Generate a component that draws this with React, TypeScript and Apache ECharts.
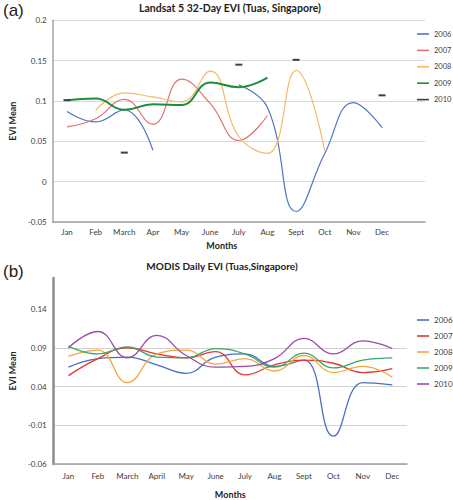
import React, { useEffect, useRef } from 'react';
import * as echarts from 'echarts';

// ---------- data ----------
const monthsA = ['Jan', 'Feb', 'March', 'Apr', 'May', 'June', 'July', 'Aug', 'Sept', 'Oct', 'Nov', 'Dec', ''];
const monthsB = ['Jan', 'Feb', 'March', 'April', 'May', 'June', 'July', 'Aug', 'Sept', 'Oct', 'Nov', 'Dec'];
const years = ['2006', '2007', '2008', '2009', '2010'];

// (a) Landsat 5 32-Day EVI
const landsat2006 = [0.087, 0.074, 0.089, 0.039, null, null, 0.12, 0.092, -0.037, 0.035, 0.098, 0.067, null];
const landsat2007 = [0.068, 0.078, 0.102, 0.071, 0.127, 0.097, 0.051, 0.082, null, null, null, null, null];
const landsat2008 = [null, 0.088, 0.11, 0.105, 0.099, 0.137, 0.056, 0.035, 0.138, 0.038, null, null, null];
const landsat2009 = [0.101, 0.103, 0.089, 0.096, 0.095, 0.123, 0.117, 0.129, null, null, null, null, null];
const landsat2010 = [0.101, null, 0.036, null, null, null, 0.145, null, 0.151, null, null, 0.107, null];

// (b) MODIS Daily EVI
const modis2006 = [0.065, 0.076, 0.078, 0.068, 0.057, 0.078, 0.082, 0.066, 0.074, -0.024, 0.045, 0.042];
const modis2007 = [0.054, 0.076, 0.09, 0.082, 0.077, 0.085, 0.055, 0.068, 0.074, 0.07, 0.058, 0.063];
const modis2008 = [0.079, 0.087, 0.045, 0.082, 0.087, 0.069, 0.076, 0.06, 0.08, 0.058, 0.066, 0.052];
const modis2009 = [0.092, 0.082, 0.091, 0.078, 0.077, 0.089, 0.082, 0.065, 0.083, 0.064, 0.074, 0.077];
const modis2010 = [0.09, 0.111, 0.077, 0.106, 0.08, 0.065, 0.066, 0.076, 0.102, 0.082, 0.099, 0.089];

const ticksB = [-0.06, -0.01, 0.04, 0.09, 0.14];

const colorsA = ['#4F76C0', '#E07272', '#F5BA66', '#1F8E3C', '#3F3F3F'];
const colorsB = ['#4A6FBF', '#E5352F', '#F5A83A', '#3EA668', '#9A4BA8'];

const FONT = 'Lato, "Open Sans", sans-serif';

const fmt = (v: number) => String(Number(v.toFixed(2)));

export default function App() {
  const ref = useRef<HTMLDivElement>(null);

  useEffect(() => {
    if (!ref.current) return;
    const chart = echarts.init(ref.current, undefined, { renderer: 'svg' });

    const seriesA = [landsat2006, landsat2007, landsat2008, landsat2009, landsat2010];
    const seriesB = [modis2006, modis2007, modis2008, modis2009, modis2010];

    const series: any[] = [];
    seriesA.forEach((d, i) => {
      const isDash = i === 4;
      series.push({
        name: years[i],
        type: 'line',
        xAxisIndex: 0,
        yAxisIndex: 0,
        data: d,
        smooth: 0.45,
        connectNulls: false,
        showSymbol: isDash,
        showAllSymbol: true,
        symbol: 'rect',
        symbolSize: [7, 2],
        itemStyle: { color: colorsA[i] },
        lineStyle: { color: colorsA[i], width: i === 3 ? 2 : 1.2 },
        z: i === 4 ? 5 : 2,
      });
    });
    seriesB.forEach((d, i) => {
      series.push({
        name: years[i],
        type: 'line',
        xAxisIndex: 1,
        yAxisIndex: 1,
        data: d,
        smooth: 0.45,
        showSymbol: false,
        itemStyle: { color: colorsB[i] },
        lineStyle: { color: colorsB[i], width: 1.3 },
      });
    });

    const labelStyle = { color: '#404040', fontSize: 8, fontFamily: FONT };
    const nameStyle = { color: '#262626', fontSize: 9, fontWeight: 'bold' as const, fontFamily: FONT };

    chart.setOption({
      animation: false,
      backgroundColor: '#ffffff',
      grid: [
        { left: 31, top: 20.3, width: 394, height: 201.7, containLabel: false },
        { left: 35, top: 278, width: 372, height: 192, containLabel: false },
      ],
      xAxis: [
        {
          type: 'category',
          gridIndex: 0,
          data: monthsA,
          boundaryGap: true,
          axisTick: { show: false },
          axisLine: { show: true, onZero: false, lineStyle: { color: '#A0A0A0', width: 1.5 } },
          axisLabel: { ...labelStyle, margin: 6, interval: 0 },
          name: 'Months',
          nameLocation: 'middle',
          nameGap: 19,
          nameTextStyle: { ...nameStyle, padding: [0, 34, 0, 0] },
        },
        {
          type: 'category',
          gridIndex: 1,
          data: monthsB,
          boundaryGap: true,
          axisTick: { show: false },
          axisLine: { show: true, onZero: false, lineStyle: { color: '#A0A0A0', width: 1.5 } },
          axisLabel: { ...labelStyle, margin: 8, interval: 0 },
          name: 'Months',
          nameLocation: 'middle',
          nameGap: 26,
          nameTextStyle: nameStyle,
        },
      ],
      yAxis: [
        {
          type: 'value',
          gridIndex: 0,
          min: -0.05,
          max: 0.2,
          interval: 0.05,
          axisLine: { show: true, lineStyle: { color: '#A6A6A6', width: 1.5 } },
          axisTick: { show: false },
          axisLabel: { ...labelStyle, margin: 6, formatter: (v: number) => fmt(v) },
          splitLine: { show: true, lineStyle: { color: '#D9D9D9', width: 1 } },
          name: 'EVI Mean',
          nameLocation: 'middle',
          nameGap: 22,
          nameRotate: 90,
          nameTextStyle: nameStyle,
        },
        {
          type: 'value',
          gridIndex: 1,
          min: -0.06,
          max: 0.18,
          axisLine: { show: true, lineStyle: { color: '#8C8C8C', width: 2.5 } },
          axisTick: { show: false, customValues: ticksB },
          axisLabel: { ...labelStyle, margin: 7, customValues: ticksB, formatter: (v: number) => fmt(v) },
          splitLine: { show: true, showMaxLine: false, lineStyle: { color: '#D0D0D0', width: 1 } },
          name: 'EVI Mean',
          nameLocation: 'middle',
          nameGap: 26,
          nameRotate: 90,
          nameTextStyle: nameStyle,
        },
      ],
      legend: [
        {
          orient: 'vertical',
          left: 417,
          top: 29,
          padding: 0,
          icon: 'rect',
          itemWidth: 12,
          itemHeight: 1.6,
          itemGap: 6.4,
          selectedMode: false,
          textStyle: { color: '#404040', fontSize: 7.5, fontFamily: FONT, lineHeight: 10 },
          data: years.map((y, i) => ({ name: y, itemStyle: { color: colorsA[i] } })),
        },
        {
          orient: 'vertical',
          left: 417,
          top: 315,
          padding: 0,
          icon: 'rect',
          itemWidth: 12,
          itemHeight: 1.6,
          itemGap: 6,
          selectedMode: false,
          textStyle: { color: '#404040', fontSize: 8, fontFamily: FONT, lineHeight: 10 },
          data: years.map((y, i) => ({ name: y, itemStyle: { color: colorsB[i] } })),
        },
      ],
      graphic: [
        { type: 'text', left: 3, top: 2, style: { text: '(a)', fontSize: 17, fontFamily: 'Liberation Sans, sans-serif', fill: '#222' } },
        { type: 'text', left: 3, top: 263, style: { text: '(b)', fontSize: 17, fontFamily: 'Liberation Sans, sans-serif', fill: '#222' } },
        {
          type: 'text', x: 230, y: 2,
          style: { text: 'Landsat 5 32-Day EVI (Tuas, Singapore)', fontSize: 10.5, fontWeight: 'bold', fontFamily: FONT, fill: '#222', textAlign: 'center' },
        },
        {
          type: 'text', x: 222, y: 261,
          style: { text: 'MODIS Daily EVI (Tuas,Singapore)', fontSize: 10, fontWeight: 'bold', fontFamily: FONT, fill: '#222', textAlign: 'center' },
        },
      ],
      series,
    });

    return () => chart.dispose();
  }, []);

  return <div ref={ref} style={{ position: 'fixed', left: 0, top: 0, width: 453, height: 500 }} />;
}
